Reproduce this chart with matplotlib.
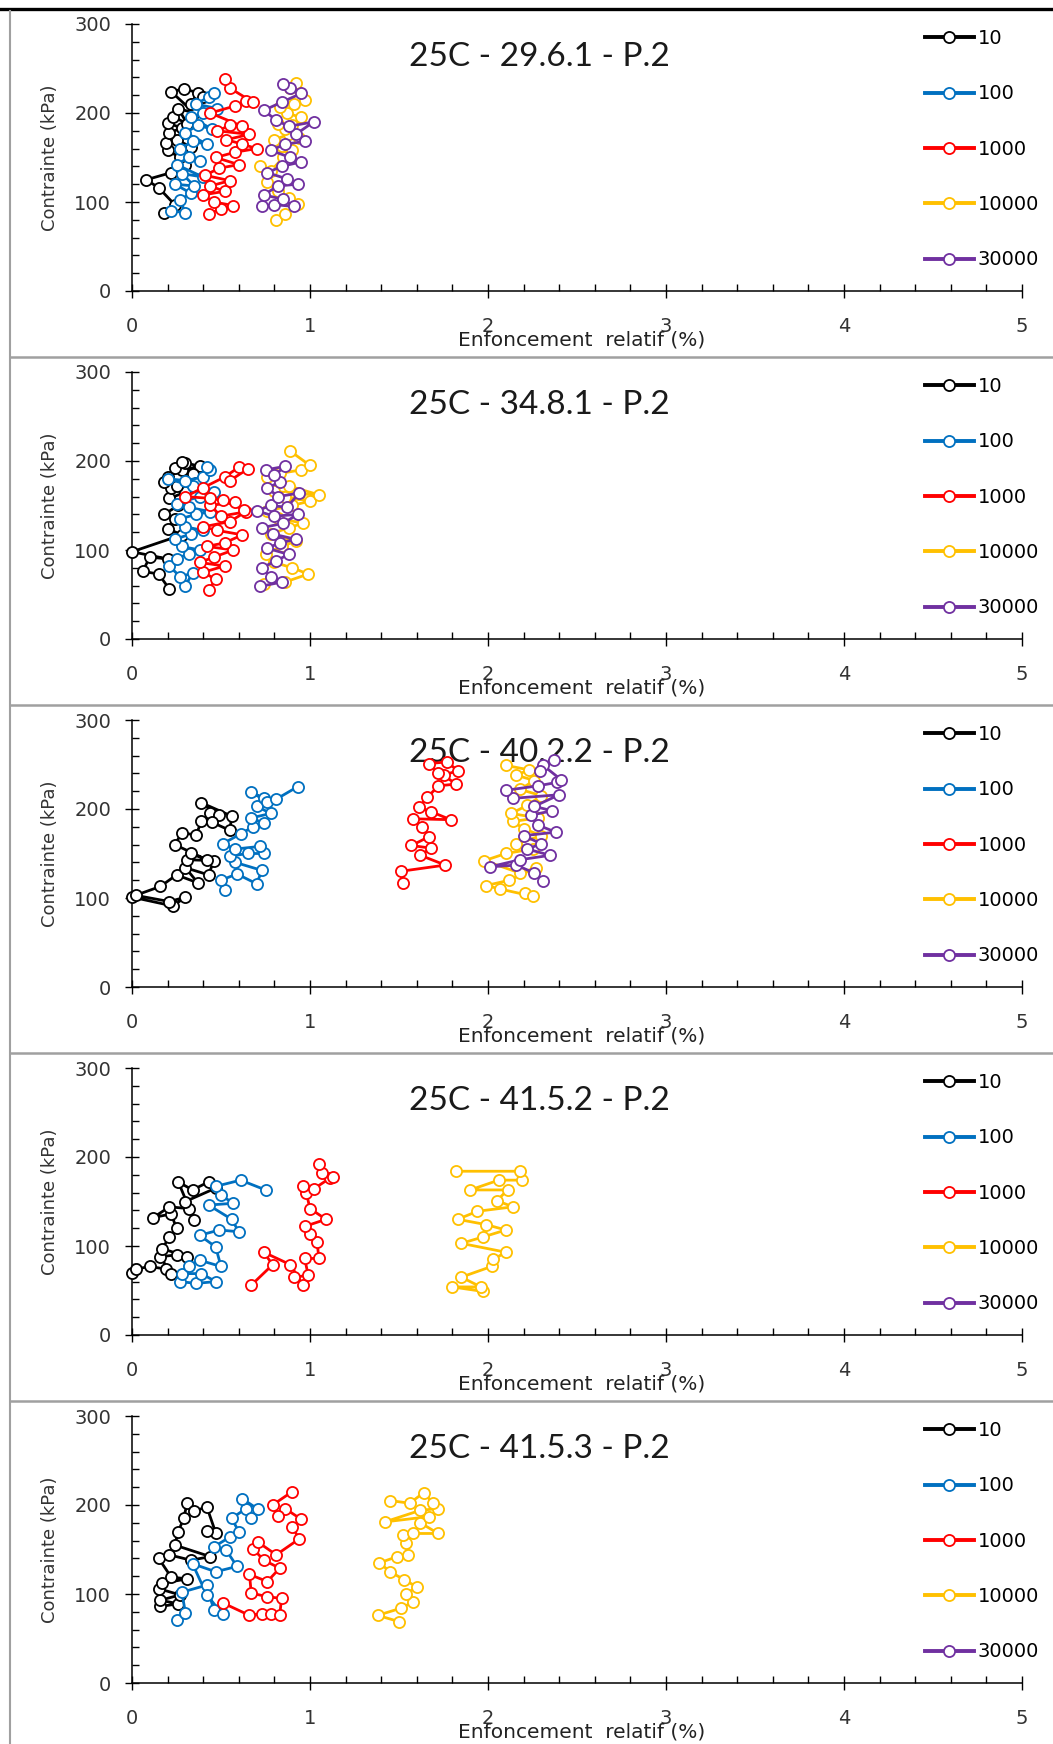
import matplotlib
matplotlib.use("Agg")
import matplotlib.pyplot as plt
from matplotlib.lines import Line2D
from matplotlib.ticker import MultipleLocator


# cycle counts (legend) and their colours
cycles = ["10", "100", "1000", "10000", "30000"]
colors = ["#000000", "#0070C0", "#FF0000", "#FFC000", "#7030A0"]

titles = [
    "25C - 29.6.1 - P.2",
    "25C - 34.8.1 - P.2",
    "25C - 40.2.2 - P.2",
    "25C - 41.5.2 - P.2",
    "25C - 41.5.3 - P.2",
]

# ---- 25C - 29.6.1 ----
x_p1_10 = [0.18, 0.24, 0.15, 0.08, 0.22, 0.30, 0.27, 0.20, 0.33, 0.25, 0.19, 0.21,
           0.28, 0.20, 0.23, 0.31, 0.26, 0.35, 0.22, 0.29, 0.37, 0.33, 0.40]
y_p1_10 = [88, 97, 116, 125, 133, 142, 150, 158, 162, 170, 166, 178,
           183, 189, 196, 188, 205, 200, 224, 227, 223, 210, 218]
x_p1_100 = [0.22, 0.30, 0.27, 0.33, 0.24, 0.35, 0.28, 0.40, 0.25, 0.32, 0.38, 0.27,
            0.34, 0.42, 0.30, 0.37, 0.45, 0.33, 0.40, 0.48, 0.36, 0.43, 0.46]
y_p1_100 = [90, 88, 102, 110, 120, 118, 132, 128, 142, 150, 146, 160,
            168, 165, 178, 186, 182, 195, 200, 205, 210, 218, 222]
x_p1_1000 = [0.43, 0.50, 0.57, 0.46, 0.40, 0.52, 0.44, 0.55, 0.41, 0.49, 0.60, 0.47, 0.58,
             0.70, 0.62, 0.53, 0.66, 0.48, 0.55, 0.62, 0.44, 0.58, 0.64, 0.68, 0.55, 0.52]
y_p1_1000 = [87, 92, 96, 100, 108, 112, 118, 124, 130, 138, 142, 150, 156,
             160, 165, 170, 176, 180, 186, 185, 200, 208, 213, 212, 228, 238]
x_p1_10000 = [0.81, 0.86, 0.93, 0.88, 0.82, 0.76, 0.72, 0.78, 0.85, 0.90, 0.84, 0.80,
              0.88, 0.94, 0.86, 0.82, 0.90, 0.95, 0.87, 0.83, 0.91, 0.97, 0.89, 0.92]
y_p1_10000 = [80, 86, 98, 104, 112, 122, 140, 135, 150, 158, 163, 170,
              176, 172, 182, 188, 186, 195, 200, 207, 210, 215, 228, 234]
x_p1_30000 = [0.73, 0.80, 0.91, 0.85, 0.74, 0.82, 0.93, 0.87, 0.76, 0.84, 0.95, 0.89,
              0.78, 0.86, 0.97, 0.92, 1.02, 0.88, 0.81, 0.74, 0.84, 0.95, 0.89, 0.85]
y_p1_30000 = [95, 97, 95, 103, 108, 118, 120, 126, 133, 140, 145, 150,
              158, 165, 168, 176, 190, 185, 192, 203, 212, 222, 228, 233]

# ---- 25C - 34.8.1 ----
x_p2_10 = [0.21, 0.15, 0.06, 0.10, 0.20, 0.00, 0.28, 0.20, 0.24, 0.18, 0.26, 0.21,
           0.30, 0.22, 0.18, 0.25, 0.20, 0.28, 0.38, 0.30, 0.24, 0.28, 0.34, 0.36]
y_p2_10 = [56, 73, 76, 92, 90, 98, 117, 124, 135, 140, 150, 158,
           165, 170, 176, 172, 182, 190, 194, 198, 192, 199, 185, 175]
x_p2_100 = [0.30, 0.34, 0.27, 0.21, 0.25, 0.32, 0.38, 0.28, 0.24, 0.33, 0.40, 0.30, 0.27,
            0.36, 0.44, 0.32, 0.25, 0.38, 0.46, 0.34, 0.20, 0.30, 0.40, 0.44, 0.42]
y_p2_100 = [60, 74, 70, 82, 90, 96, 100, 104, 112, 118, 122, 126, 135,
            140, 143, 148, 152, 160, 165, 172, 180, 178, 182, 190, 193]
x_p2_1000 = [0.43, 0.47, 0.40, 0.52, 0.38, 0.46, 0.57, 0.42, 0.52, 0.62, 0.48, 0.40, 0.55,
             0.64, 0.50, 0.44, 0.58, 0.63, 0.51, 0.44, 0.30, 0.40, 0.52, 0.60, 0.65, 0.55]
y_p2_1000 = [55, 67, 75, 82, 86, 92, 100, 104, 108, 117, 122, 126, 132,
             143, 138, 150, 154, 145, 156, 158, 160, 170, 182, 193, 191, 178]
x_p2_10000 = [0.74, 0.86, 0.99, 0.90, 0.80, 0.75, 0.84, 0.92, 0.78, 0.88, 0.96, 0.82, 0.76,
              0.90, 1.00, 0.86, 0.80, 0.94, 1.05, 0.88, 0.76, 0.83, 0.95, 1.00, 0.89]
y_p2_10000 = [62, 64, 73, 80, 86, 96, 104, 110, 118, 125, 130, 136, 144,
              150, 155, 160, 166, 163, 162, 172, 182, 186, 190, 195, 211]
x_p2_30000 = [0.72, 0.84, 0.78, 0.73, 0.81, 0.88, 0.76, 0.83, 0.92, 0.79, 0.73, 0.85,
              0.93, 0.80, 0.70, 0.78, 0.87, 0.94, 0.82, 0.76, 0.83, 0.75, 0.86, 0.80]
y_p2_30000 = [59, 64, 70, 80, 88, 95, 102, 108, 112, 118, 125, 130,
              140, 138, 144, 150, 148, 164, 160, 170, 176, 190, 194, 184]

# ---- 25C - 40.2.2 ----
x_p3_10 = [0.00, 0.23, 0.30, 0.21, 0.02, 0.16, 0.25, 0.37, 0.30, 0.43, 0.46, 0.31,
           0.33, 0.42, 0.24, 0.28, 0.36, 0.39, 0.44, 0.49, 0.39, 0.56, 0.55, 0.45]
y_p3_10 = [101, 91, 101, 96, 103, 113, 126, 117, 134, 126, 142, 143,
           150, 143, 160, 173, 171, 186, 195, 193, 207, 192, 176, 185]
x_p3_100 = [0.52, 0.50, 0.59, 0.70, 0.73, 0.58, 0.55, 0.65, 0.74, 0.72, 0.58, 0.51,
            0.61, 0.68, 0.74, 0.67, 0.78, 0.70, 0.74, 0.67, 0.76, 0.81, 0.93]
y_p3_100 = [109, 120, 127, 116, 131, 140, 147, 150, 150, 158, 155, 161,
            172, 180, 184, 190, 195, 203, 212, 219, 208, 211, 225]
x_p3_1000 = [1.52, 1.51, 1.76, 1.62, 1.68, 1.57, 1.67, 1.63, 1.58, 1.79,
             1.68, 1.61, 1.66, 1.72, 1.82, 1.75, 1.83, 1.77, 1.67, 1.72]
y_p3_1000 = [117, 130, 137, 148, 156, 159, 169, 180, 189, 188,
             197, 202, 213, 226, 228, 238, 243, 253, 251, 240]
x_p3_10000 = [2.21, 2.25, 2.07, 1.99, 2.12, 2.27, 2.18, 1.98, 2.10, 2.25, 2.16, 2.30,
              2.20, 2.14, 2.28, 2.13, 2.22, 2.30, 2.18, 2.26, 2.16, 2.23, 2.10]
y_p3_10000 = [106, 102, 110, 114, 120, 134, 128, 142, 150, 155, 161, 170,
              178, 186, 190, 195, 204, 215, 222, 232, 238, 244, 249]
x_p3_30000 = [2.31, 2.26, 2.16, 2.01, 2.18, 2.35, 2.22, 2.30, 2.20, 2.38, 2.28, 2.24,
              2.36, 2.26, 2.40, 2.14, 2.10, 2.28, 2.39, 2.41, 2.31, 2.37, 2.29]
y_p3_30000 = [119, 128, 137, 135, 143, 148, 155, 161, 170, 174, 182, 193,
              198, 203, 216, 212, 221, 226, 230, 233, 249, 255, 243]

# ---- 25C - 41.5.2 ----
x_p4_10 = [0.00, 0.02, 0.10, 0.19, 0.22, 0.16, 0.25, 0.31, 0.17, 0.21, 0.25,
           0.22, 0.12, 0.21, 0.32, 0.35, 0.26, 0.34, 0.43, 0.47, 0.30]
y_p4_10 = [70, 74, 77, 74, 68, 88, 90, 88, 97, 110, 120,
           136, 132, 144, 142, 129, 172, 163, 172, 165, 150]
x_p4_100 = [0.27, 0.36, 0.47, 0.39, 0.28, 0.32, 0.38, 0.50, 0.47, 0.38,
            0.49, 0.60, 0.56, 0.43, 0.57, 0.50, 0.47, 0.61, 0.75]
y_p4_100 = [60, 58, 60, 69, 69, 78, 84, 77, 99, 112,
            118, 116, 130, 146, 148, 157, 167, 174, 163]
x_p4_1000 = [0.67, 0.79, 0.74, 0.89, 0.96, 0.91, 0.99, 0.97, 1.05, 1.04, 1.00,
             0.97, 1.09, 1.00, 0.98, 0.96, 1.02, 1.11, 1.13, 1.07, 1.05]
y_p4_1000 = [56, 79, 93, 79, 56, 65, 67, 86, 86, 104, 114,
             122, 130, 142, 159, 167, 164, 176, 178, 182, 192]
x_p4_10000 = [1.97, 1.80, 1.96, 1.85, 2.02, 2.03, 2.10, 1.85, 1.97, 2.10, 1.99,
              1.83, 1.94, 2.14, 2.05, 2.11, 1.90, 2.06, 2.19, 2.18, 1.82]
y_p4_10000 = [49, 54, 54, 65, 77, 85, 93, 103, 110, 118, 124,
              130, 139, 144, 151, 163, 163, 174, 174, 184, 184]
x_p4_30000 = []
y_p4_30000 = []

# ---- 25C - 41.5.3 ----
x_p5_10 = [0.16, 0.26, 0.16, 0.27, 0.15, 0.17, 0.31, 0.22, 0.15, 0.21,
           0.33, 0.44, 0.24, 0.26, 0.29, 0.31, 0.35, 0.42, 0.47, 0.42]
y_p5_10 = [86, 89, 93, 99, 106, 112, 117, 119, 140, 144,
           138, 142, 155, 170, 185, 202, 193, 198, 169, 171]
x_p5_100 = [0.25, 0.30, 0.28, 0.42, 0.46, 0.51, 0.42, 0.34, 0.47, 0.59,
            0.53, 0.46, 0.55, 0.60, 0.56, 0.64, 0.67, 0.71, 0.62]
y_p5_100 = [71, 79, 102, 110, 82, 77, 99, 134, 125, 131,
            149, 153, 164, 170, 185, 196, 185, 195, 207]
x_p5_1000 = [0.51, 0.66, 0.73, 0.78, 0.83, 0.84, 0.76, 0.67, 0.66, 0.76, 0.83,
             0.74, 0.68, 0.71, 0.81, 0.94, 0.90, 0.95, 0.86, 0.82, 0.79, 0.90]
y_p5_1000 = [90, 76, 78, 78, 76, 95, 97, 101, 122, 114, 129,
             138, 151, 158, 144, 162, 175, 184, 196, 188, 200, 215]
x_p5_10000 = [1.50, 1.38, 1.51, 1.58, 1.54, 1.60, 1.53, 1.45, 1.39, 1.49, 1.55, 1.54,
              1.52, 1.58, 1.72, 1.62, 1.67, 1.42, 1.62, 1.72, 1.69, 1.64, 1.56, 1.45]
y_p5_10000 = [69, 76, 84, 91, 100, 108, 116, 125, 135, 142, 144, 157,
              166, 168, 168, 180, 187, 181, 194, 196, 202, 214, 202, 205]
x_p5_30000 = []
y_p5_30000 = []

panels = [
    [(x_p1_10, y_p1_10), (x_p1_100, y_p1_100), (x_p1_1000, y_p1_1000),
     (x_p1_10000, y_p1_10000), (x_p1_30000, y_p1_30000)],
    [(x_p2_10, y_p2_10), (x_p2_100, y_p2_100), (x_p2_1000, y_p2_1000),
     (x_p2_10000, y_p2_10000), (x_p2_30000, y_p2_30000)],
    [(x_p3_10, y_p3_10), (x_p3_100, y_p3_100), (x_p3_1000, y_p3_1000),
     (x_p3_10000, y_p3_10000), (x_p3_30000, y_p3_30000)],
    [(x_p4_10, y_p4_10), (x_p4_100, y_p4_100), (x_p4_1000, y_p4_1000),
     (x_p4_10000, y_p4_10000), (x_p4_30000, y_p4_30000)],
    [(x_p5_10, y_p5_10), (x_p5_100, y_p5_100), (x_p5_1000, y_p5_1000),
     (x_p5_10000, y_p5_10000), (x_p5_30000, y_p5_30000)],
]

plt.rcParams["font.family"] = ["DejaVu Sans"]

W, H = 1053, 1744
STEP = 348

fig = plt.figure(figsize=(W / 100, H / 100), dpi=100)

for k, (title, series) in enumerate(zip(titles, panels)):

    top = 24 + STEP * k

    ax = fig.add_axes([132 / W, 1 - (top + 267) / H, 890 / W, 267 / H])
    ax.patch.set_alpha(0)

    for (xs, ys), lab, col in zip(series, cycles, colors):
        ax.plot(
            xs, ys,
            color=col,
            lw=2.0,
            marker="o",
            ms=8,
            mfc="white",
            mec=col,
            mew=1.3,
            label=lab,
            clip_on=False,
            zorder=3
        )

    ax.set_xlim(0, 5)
    ax.set_ylim(0, 300)
    ax.set_xticks(range(6))
    ax.set_yticks([0, 100, 200, 300])
    ax.xaxis.set_minor_locator(MultipleLocator(0.2))
    ax.yaxis.set_minor_locator(MultipleLocator(20))

    ax.spines["top"].set_visible(False)
    ax.spines["right"].set_visible(False)
    for s in ["left", "bottom"]:
        ax.spines[s].set_linewidth(1.1)

    ax.tick_params(which="major", direction="inout", length=10, width=1.0,
                   labelsize=14, colors="black")
    ax.tick_params(which="minor", direction="in", length=5, width=1.0)
    ax.tick_params(axis="x", which="major", pad=14)
    ax.tick_params(axis="y", which="major", pad=10)
    for lbl in ax.get_xticklabels() + ax.get_yticklabels():
        lbl.set_color("#333333")

    # the reference lets this label run into the "2" and "3" tick labels
    ax.set_xlabel("Enfoncement  relatif (%)", fontsize=14.5, color="#222222")
    ax.xaxis.set_label_coords(0.505, -0.147)
    ax.set_ylabel("Contrainte (kPa)", fontsize=13, color="#333333")
    ax.yaxis.set_label_coords(-0.082, 0.5)

    ax.text(
        539 / W, 1 - (66 + STEP * k) / H,
        title,
        transform=fig.transFigure,
        ha="center",
        va="baseline",
        fontsize=24,
        family="Lato",
        color="#1a1a1a",
        zorder=1
    )

    leg = ax.legend(
        loc="upper left",
        bbox_to_anchor=(925 / W, 1 - (top + 5) / H),
        bbox_transform=fig.transFigure,
        frameon=False,
        fontsize=14,
        borderpad=0,
        borderaxespad=0,
        handlelength=2.5,
        handletextpad=0.2,
        labelspacing=1.87
    )
    for h in leg.get_lines():
        h.set_linewidth(2.8)

# panel frames
grey = "#a0a0a0"
fig.add_artist(Line2D([0, 1], [1 - 9 / H] * 2, color="black", lw=2.4))
fig.add_artist(Line2D([10 / W] * 2, [0, 1 - 11 / H], color=grey, lw=1.5))
for k in range(1, 5):
    yy = 1 - (9 + STEP * k) / H
    fig.add_artist(Line2D([10 / W, 1], [yy, yy], color=grey, lw=1.8))

fig.savefig("out.png", dpi=100)
